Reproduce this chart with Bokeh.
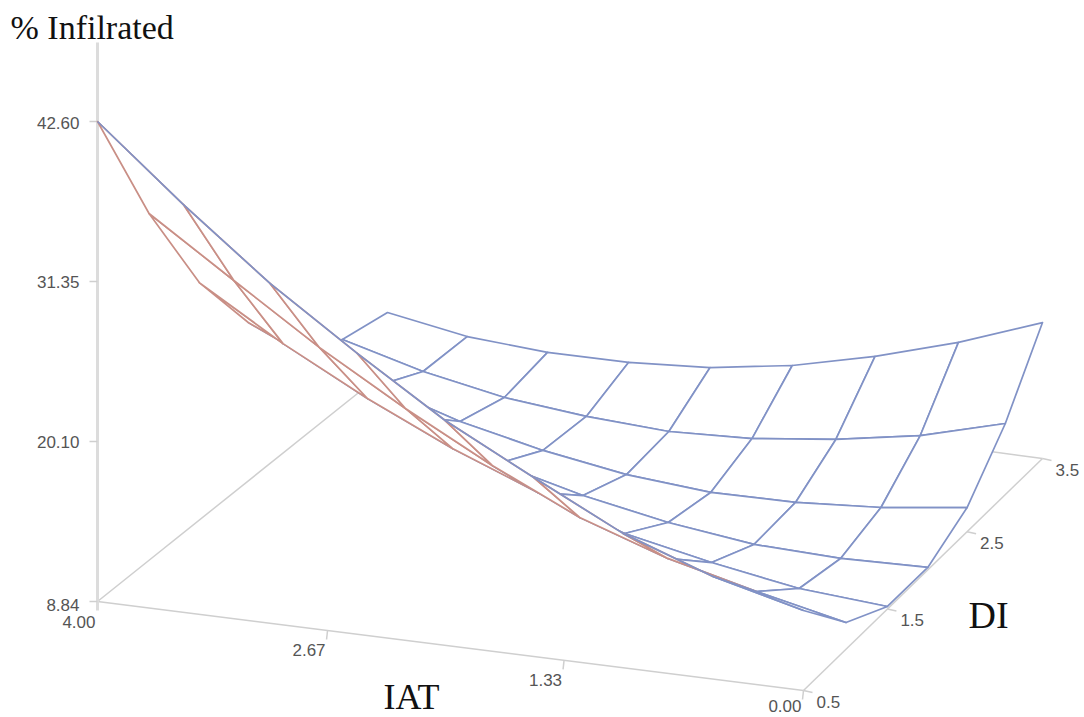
from bokeh.plotting import figure
from bokeh.models import Range1d
from bokeh.core.properties import value
from bokeh.embed import file_html
from bokeh.resources import INLINE

# ---- data ----
iat_levels = [4.0, 3.5, 3.0, 2.5, 2.0, 1.5, 1.0, 0.5, 0.0]
di_levels = [0.5, 1.0, 1.5, 2.0, 2.5, 3.0, 3.5]
z_di_05 = [42.60, 37.52, 32.74, 28.59, 24.65, 21.43, 18.29, 16.06, 14.47]
z_di_10 = [33.23, 29.28, 25.34, 21.82, 18.59, 15.72, 13.63, 12.10, 10.72]
z_di_15 = [25.54, 22.01, 18.92, 16.18, 13.85, 11.76, 10.51, 9.48, 9.02]
z_di_20 = [19.98, 17.36, 14.90, 12.37, 10.89, 9.78, 9.03, 8.84, 9.01]
z_di_25 = [15.46, 13.62, 11.86, 10.60, 9.68, 9.21, 9.30, 9.74, 10.54]
z_di_30 = [13.49, 12.00, 10.94, 10.38, 10.10, 10.39, 11.12, 12.19, 13.84]
z_di_35 = [12.85, 11.92, 11.57, 11.64, 12.06, 12.99, 14.42, 16.20, 18.40]
surface = [z_di_05, z_di_10, z_di_15, z_di_20, z_di_25, z_di_30, z_di_35]

z_ticks = [42.60, 31.35, 20.10, 8.84]
z_tick_labels = ["42.60", "31.35", "20.10", "8.84"]
iat_ticks = [4.00, 2.67, 1.33, 0.00]
iat_tick_labels = ["4.00", "2.67", "1.33", "0.00"]
di_ticks = [0.5, 1.5, 2.5, 3.5]
di_tick_labels = ["0.5", "1.5", "2.5", "3.5"]

BLUE = "#8192c6"
RED = "#c98f86"
GREY = "#cfcfcf"
LABEL = "#555555"


# ---- view: the box as seen by the camera, in page pixels ----
def project(iat, di, z):
    t = (4.0 - iat) / 4.0
    s = (di - 0.5) / 3.0
    u = t * (0.97 + 0.03 * t)
    v = s * (1.08 - 0.08 * s)
    x = 97 + 706 * u + 290 * v - 51 * u * v
    y = 601 + 89 * u - 232 * v - (z - 8.84) * 480 / 33.76
    return x, y


p = figure(width=1084, height=717, output_backend="svg", toolbar_location=None,
           x_range=Range1d(0, 1084), y_range=Range1d(717, 0), min_border=0,
           outline_line_color=None, background_fill_color="white")
p.axis.visible = False
p.grid.visible = False


def segment(a, b, width=1.5, color=GREY):
    p.line([a[0], b[0]], [a[1], b[1]], line_color=color, line_width=width)


zmin, zmax = z_ticks[-1], z_ticks[0]
A = project(4, 0.5, zmin)
B = project(0, 0.5, zmin)
C = project(0, 3.5, zmin)
D = project(4, 3.5, zmin)
for a, b in [(A, B), (B, C), (C, D), (D, A)]:
    segment(a, b)
p.line([A[0], A[0]], [A[1] + 9, 42], line_color="#dcdcdc", line_width=3)

# ticks and labels
tx, ty, tt, ta = [], [], [], []
for z, lab in zip(z_ticks, z_tick_labels):
    x, y = project(4, 0.5, z)
    segment((x - 8, y), (x, y))
    tx.append(x - 18); ty.append(y + 1 if z > zmin else y + 3); tt.append(lab); ta.append("right")
for v, lab in zip(iat_ticks, iat_tick_labels):
    x, y = project(v, 0.5, zmin)
    if v < 4:
        segment((x, y), (x - 1, y + 9))
    tx.append(x - 2); ty.append(y + 20); tt.append(lab); ta.append("right")
ty[-1] = 705
for v, lab in zip(di_ticks, di_tick_labels):
    x, y = project(0, v, zmin)
    segment((x, y), (x + 9, y + 2))
    tx.append(x + 13); ty.append(y + 11); tt.append(lab); ta.append("left")
p.text(tx, ty, text=tt, text_align=ta, text_baseline="middle",
       text_font_size="17px", text_color=LABEL, text_font=value("Liberation Sans"))

# surface: back to front, each cell hides what lies behind it
n_i, n_j = len(iat_levels), len(di_levels)
grid = [[project(iat_levels[i], di_levels[j], surface[j][i]) for i in range(n_i)] for j in range(n_j)]
for j in range(n_j - 2, -1, -1):
    for i in range(n_i - 1):
        q = [grid[j][i], grid[j][i + 1], grid[j + 1][i + 1], grid[j + 1][i]]
        area = sum(q[k][0] * q[(k + 1) % 4][1] - q[(k + 1) % 4][0] * q[k][1] for k in range(4))
        color = BLUE if area < 0 else RED
        p.patch([c[0] for c in q], [c[1] for c in q], fill_color="white",
                line_color=color, line_width=1.7, line_join="round")
p.line([c[0] for c in grid[0]], [c[1] for c in grid[0]], line_color=BLUE, line_width=1.7)

# axis titles
p.text([10], [27], text=["% Infilrated"], text_baseline="middle", text_align="left",
       text_font_size="34px", text_color="#111111", text_font=value("Liberation Serif"))
p.text([383], [696], text=["IAT"], text_baseline="middle", text_align="left",
       text_font_size="36px", text_color="#111111", text_font=value("Liberation Serif"))
p.text([968], [614], text=["DI"], text_baseline="middle", text_align="left",
       text_font_size="38px", text_color="#111111", text_font=value("Liberation Serif"))

open("out.html", "w").write(file_html(p, INLINE))
